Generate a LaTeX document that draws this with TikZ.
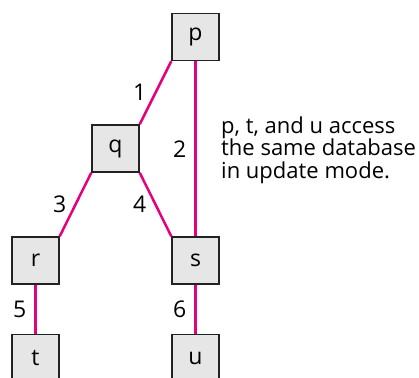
\documentclass[tikz,border=0pt]{standalone}
\usepackage{fontspec}
\setmainfont{Open Sans}
\usepackage{tikz}
\usetikzlibrary{positioning}

\definecolor{boxgray}{HTML}{E6E6E6}
\definecolor{boxline}{HTML}{222222}
\definecolor{linkpink}{HTML}{E6007E}

\tikzset{
	proc/.style={draw=boxline, fill=boxgray, line width=1.5pt, minimum size=47pt, inner sep=0pt, font=\fontsize{23}{23}\selectfont},
	link/.style={draw=linkpink, line width=2.5pt},
	lbl/.style={left, inner sep=0pt, xshift=-8pt, font=\fontsize{23}{23}\selectfont}
}

\begin{document}
\begin{tikzpicture}[x=1pt, y=-1pt]
		\useasboundingbox (0,0) rectangle (419,377);

		% Define nodes
		\node[proc] (p) at (195.5,37) {p};
		\node[proc] (q) at (115.5,148.5) {q};
		\node[proc] (r) at (35.5,260.5) {r};
		\node[proc] (s) at (195.5,260.5) {s};
		\node[proc, below=49pt of r] (t) {t};
		\node[proc, below=49pt of s] (u) {u};
		\node[anchor=west, align=left, inner sep=0pt, font=\fontsize{22}{22.5}\selectfont] (note) at (221,150)
			{p, t, and u access\\the same database\\in update mode.};

		% Connect the nodes
		\draw[link] (p.south west) -- node[lbl] {1} (q.north east);
		\draw[link] (p) -- node[lbl, pos=0.5] {2} (s);
		\draw[link] (q.south west) -- node[lbl] {3} (r.north east);
		\draw[link] (q.south east) -- node[lbl] {4} (s.north west);
		\draw[link] (r) -- node[lbl] {5} (t);
		\draw[link] (s) -- node[lbl] {6} (u);
	\end{tikzpicture}
\end{document}
